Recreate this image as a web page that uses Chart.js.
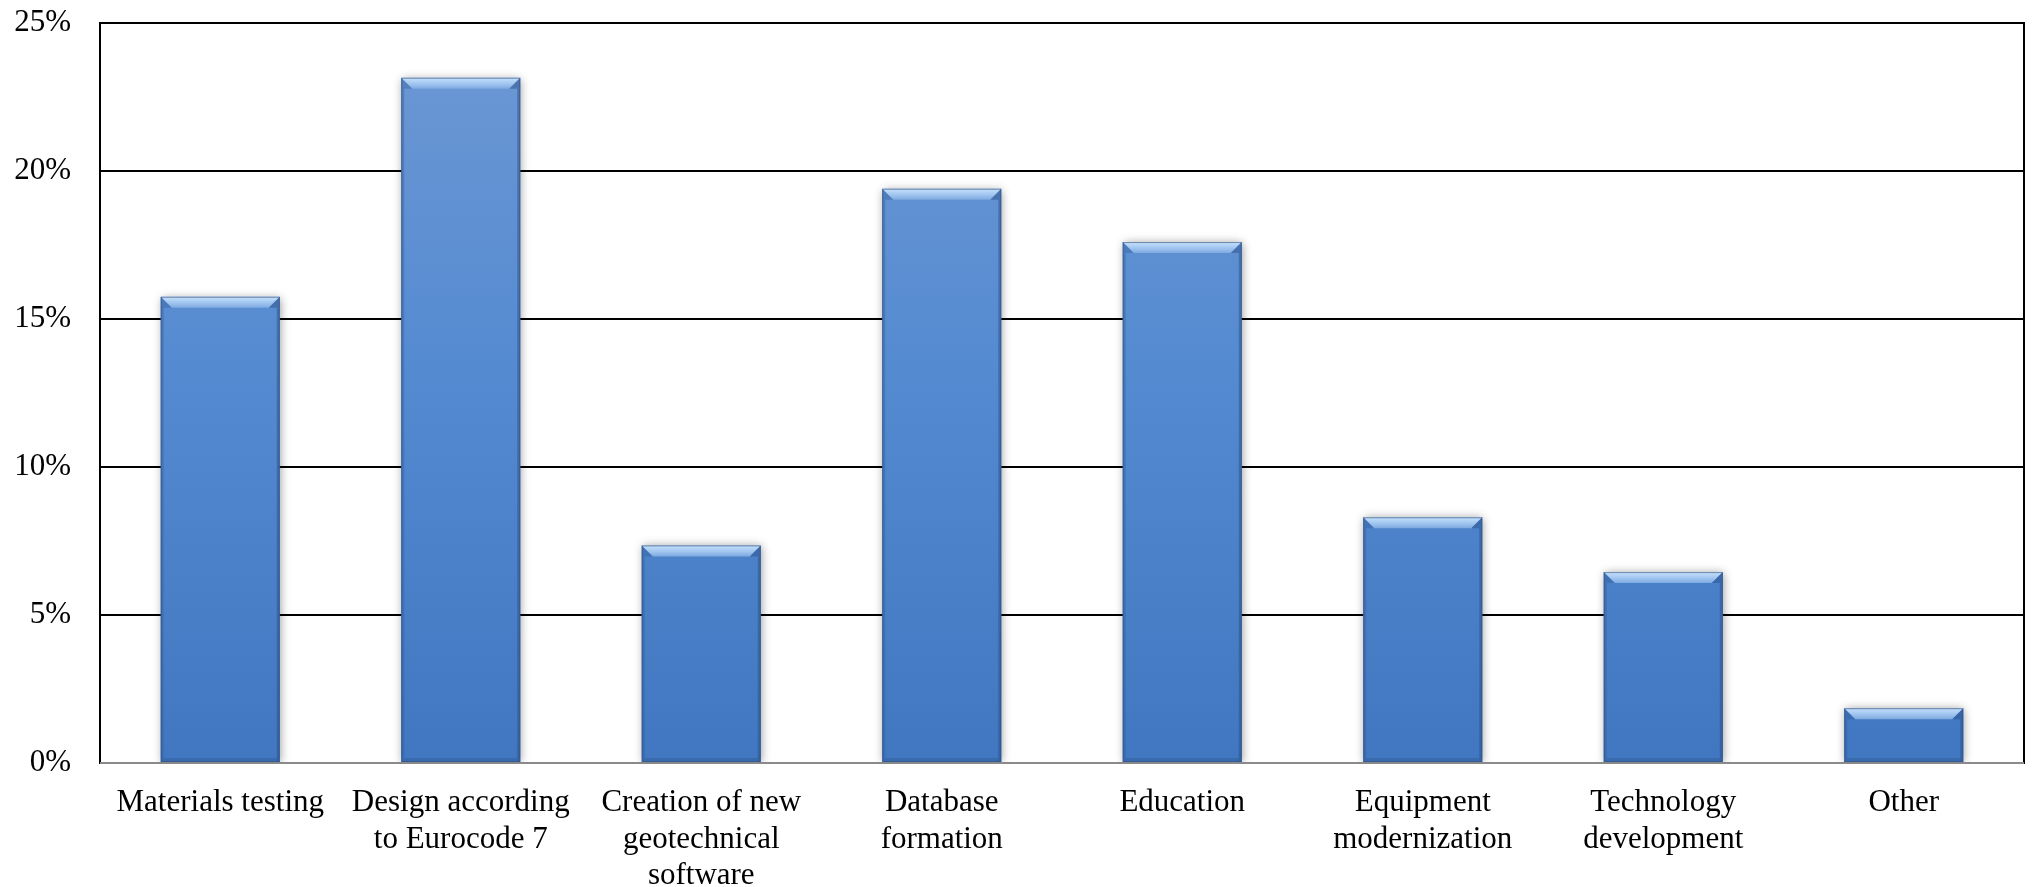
<!DOCTYPE html>
<html>
<head>
<meta charset="utf-8">
<script src="https://cdn.jsdelivr.net/npm/chart.js@4/dist/chart.umd.min.js"></script>
<style>
  html, body { margin: 0; padding: 0; background: #fff; }
  #wrap { width: 2032px; height: 887px; }
</style>
</head>
<body>
<div id="wrap"><canvas id="areasChart" width="2032" height="887"></canvas></div>
<script>
// Share of answers per development area (%)
const categories = [
    'Materials testing',
    ['Design according', 'to Eurocode 7'],
    ['Creation of new', 'geotechnical', 'software'],
    ['Database', 'formation'],
    'Education',
    ['Equipment', 'modernization'],
    ['Technology', 'development'],
    'Other'
];
const shares = [15.75, 23.15, 7.35, 19.4, 17.6, 8.3, 6.45, 1.85];
const yTicks = [0, 5, 10, 15, 20, 25];

const serif = "'Liberation Serif', 'Times New Roman', serif";

// vertical blue gradient for each bar
function barFill(context) {
    const chart = context.chart;
    const area = chart.chartArea;
    if (!area) return '#4f86cd';
    const el = context.element;
    const top = el && el.y !== undefined ? el.y : area.top;
    const g = chart.ctx.createLinearGradient(0, top, 0, area.bottom);
    g.addColorStop(0, '#6e98d4');
    g.addColorStop(0.45, '#558bd1');
    g.addColorStop(1, '#4077c0');
    return g;
}

// soft drop shadow under the bars
const barShadow = {
    id: 'barShadow',
    beforeDatasetsDraw(chart) {
        const ctx = chart.ctx;
        ctx.save();
        ctx.shadowColor = 'rgba(0, 0, 0, 0.4)';
        ctx.shadowBlur = 9;
        ctx.shadowOffsetX = 1;
        ctx.shadowOffsetY = 1;
    },
    afterDatasetsDraw(chart) {
        chart.ctx.restore();
    }
};

// bevelled top and edges of each bar
const barBevel = {
    id: 'barBevel',
    afterDatasetsDraw(chart) {
        const ctx = chart.ctx;
        const meta = chart.getDatasetMeta(0);
        ctx.save();
        meta.data.forEach(bar => {
            const left = bar.x - bar.width / 2;
            const right = bar.x + bar.width / 2;
            const top = bar.y;
            const bottom = bar.base;
            const b = Math.min(11, (bottom - top) / 2);

            // top highlight
            const hg = ctx.createLinearGradient(0, top, 0, top + b);
            hg.addColorStop(0, '#c6e0fb');
            hg.addColorStop(0.5, '#a4c8f1');
            hg.addColorStop(1, '#7ea9e0');
            ctx.fillStyle = hg;
            ctx.beginPath();
            ctx.moveTo(left, top);
            ctx.lineTo(right, top);
            ctx.lineTo(right - b, top + b);
            ctx.lineTo(left + b, top + b);
            ctx.closePath();
            ctx.fill();

            // side edges
            ctx.fillStyle = 'rgba(45, 85, 145, 0.35)';
            ctx.beginPath();
            ctx.moveTo(left, top);
            ctx.lineTo(left + b, top + b);
            ctx.lineTo(left + 3, top + b);
            ctx.lineTo(left + 3, bottom);
            ctx.lineTo(left, bottom);
            ctx.closePath();
            ctx.fill();

            ctx.fillStyle = 'rgba(40, 75, 130, 0.45)';
            ctx.beginPath();
            ctx.moveTo(right, top);
            ctx.lineTo(right - b, top + b);
            ctx.lineTo(right - 3, top + b);
            ctx.lineTo(right - 3, bottom);
            ctx.lineTo(right, bottom);
            ctx.closePath();
            ctx.fill();

            // bottom edge
            ctx.fillStyle = 'rgba(40, 75, 130, 0.3)';
            ctx.fillRect(left + 3, bottom - 4, right - left - 6, 4);

            // thin outline
            ctx.strokeStyle = 'rgba(50, 80, 125, 0.6)';
            ctx.lineWidth = 1;
            ctx.strokeRect(left + 0.5, top + 0.5, right - left - 1, bottom - top - 1);
        });
        ctx.restore();
    }
};

// frame around the plot area
const plotFrame = {
    id: 'plotFrame',
    afterDraw(chart) {
        const { ctx, chartArea: a } = chart;
        ctx.save();
        ctx.strokeStyle = '#000';
        ctx.lineWidth = 2;
        ctx.strokeRect(a.left, a.top, a.right - a.left, a.bottom - a.top);
        ctx.strokeStyle = '#8a8a8a';
        ctx.beginPath();
        ctx.moveTo(a.left, a.bottom);
        ctx.lineTo(a.right, a.bottom);
        ctx.stroke();
        ctx.restore();
    }
};

new Chart(document.getElementById('areasChart'), {
    type: 'bar',
    data: {
        labels: categories,
        datasets: [{
            data: shares,
            backgroundColor: barFill,
            borderWidth: 0,
            barPercentage: 0.495,
            categoryPercentage: 1.0
        }]
    },
    options: {
        responsive: false,
        animation: false,
        layout: { padding: { left: 12, right: 8, top: 23, bottom: 0 } },
        plugins: {
            legend: { display: false },
            tooltip: { enabled: false }
        },
        scales: {
            x: {
                grid: { display: false },
                border: { display: false },
                afterFit(scale) {
                    scale.paddingLeft = 0;
                    scale.paddingRight = 0;
                    scale.height = 124;
                },
                ticks: {
                    color: '#000',
                    maxRotation: 0,
                    autoSkip: false,
                    padding: 14,
                    font: { family: serif, size: 31, lineHeight: 1.17 }
                }
            },
            y: {
                min: 0,
                max: 25,
                afterBuildTicks(scale) {
                    scale.ticks = yTicks.map(v => ({ value: v }));
                },
                afterFit(scale) {
                    scale.width = 88;
                    scale.paddingTop = 0;
                    scale.paddingBottom = 0;
                },
                grid: { color: '#000', lineWidth: 2, drawTicks: false },
                border: { display: false },
                ticks: {
                    color: '#000',
                    padding: 29,
                    callback: v => v + '%',
                    font: { family: serif, size: 31 }
                }
            }
        }
    },
    plugins: [barShadow, barBevel, plotFrame]
});
</script>
</body>
</html>
